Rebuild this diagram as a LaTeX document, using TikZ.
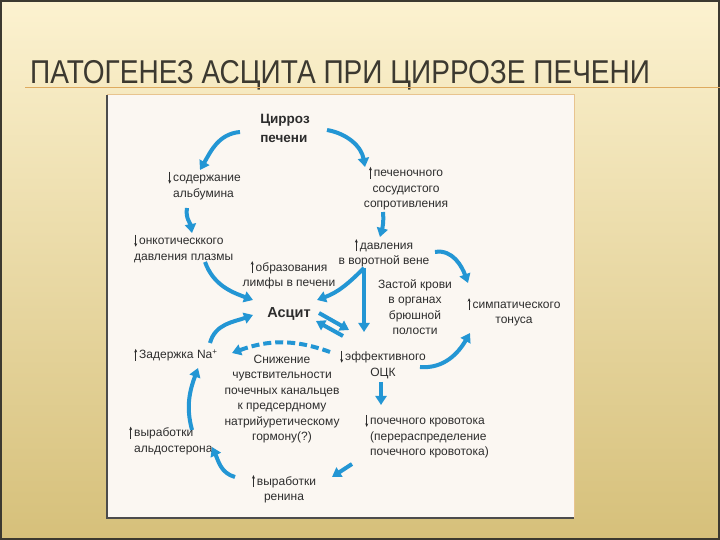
\documentclass[tikz,border=0pt]{standalone}
\usepackage{fontspec}
\setmainfont{Liberation Sans}
\usetikzlibrary{arrows.meta}

\definecolor{flowblue}{RGB}{35,150,212}
\definecolor{inktext}{RGB}{45,45,45}
\definecolor{titleink}{RGB}{60,57,48}
\definecolor{slidetop}{RGB}{252,242,208}
\definecolor{slidebot}{RGB}{214,192,122}
\definecolor{panelfill}{RGB}{251,247,242}
\definecolor{rulecol}{RGB}{222,170,95}

% small black up/down marks in front of the labels
\newcommand{\upa}{\tikz[baseline=0pt]\draw[line width=0.6pt,-{Stealth[length=3.5pt,width=3pt]}] (0pt,-2pt) -- (0pt,10pt);\hspace{2pt}}
\newcommand{\dna}{\tikz[baseline=0pt]\draw[line width=0.6pt,-{Stealth[length=3.5pt,width=3pt]}] (0pt,10pt) -- (0pt,-2pt);\hspace{2pt}}

\tikzset{
  flow/.style={draw=flowblue, line width=4pt, -{Triangle[length=9pt,width=11pt]}},
  flowdash/.style={flow, dash pattern=on 8pt off 4pt},
  lbl/.style={inner sep=0pt, text=inktext, font=\fontsize{12}{15.5}\selectfont},
  lbll/.style={lbl, align=left, anchor=west},
  lblc/.style={lbl, align=center},
  head/.style={inner sep=0pt, text=inktext, font=\fontsize{13.5}{19}\selectfont\bfseries, align=left},
}

\begin{document}
\begin{tikzpicture}[x=1pt,y=1pt]
  \useasboundingbox (0,0) rectangle (720,540);

  %draw slide background
  \shade[top color=slidetop, bottom color=slidebot] (0,0) rectangle (720,540);
  \draw[line width=2pt, draw=titleink] (1,1) rectangle (719,539);

  %draw title
  \node[anchor=base west, inner sep=0pt, text=titleink, font=\fontsize{33}{36}\selectfont] (title) at (30,456)
    {\scalebox{0.85}[1]{ПАТОГЕНЕЗ АСЦИТА ПРИ ЦИРРОЗЕ ПЕЧЕНИ}};
  \draw[rulecol, line width=1pt] (25,452) -- (720,452);

  %draw panel
  \fill[panelfill] (107,22) rectangle (574,445);
  \draw[rulecol!70, line width=1pt] (107,445) -- (574,445) -- (574,22);
  \draw[black!70, line width=1.2pt] (107,445) -- (107,22) -- (574,22);

  %draw nodes
  \node[head] (cirr) at (285,412) {Цирроз\\печени};
  \node[lbll] (alb) at (168,354.5) {\dna содержание\\\hphantom{\dna}альбумина};
  \node[lbll] (onk) at (134,291.5) {\dna онкотическкого\\давления плазмы};
  \node[lblc] (lymph) at (289,265) {\upa образования\\лимфы в печени};
  \node[lblc] (sopr) at (406,351.5) {\upa печеночного\\сосудистого\\сопротивления};
  \node[lblc] (portal) at (384,287) {\upa давления\\в воротной вене};
  \node[lblc] (zastoy) at (415,233) {Застой крови\\в органах\\брюшной\\полости};
  \node[lblc] (symp) at (514,228) {\upa симпатического\\тонуса};
  \node[head, font=\fontsize{14.5}{19}\selectfont\bfseries] (ascit) at (289,226) {Асцит};
  \node[lbll] (na) at (134,185) {\upa Задержка Na\textsuperscript{+}};
  \node[lblc] (atrial) at (282,141) {Снижение\\чувствительности\\почечных канальцев\\к предсердному\\натрийуретическому\\гормону(?)};
  \node[lblc] (occ) at (383,175.5) {\dna эффективного\\ОЦК};
  \node[lbll] (ald) at (129,99.5) {\upa выработки\\\hphantom{\upa}альдостерона};
  \node[lblc] (renin) at (284,51) {\upa выработки\\ренина};
  \node[lbll] (kidney) at (365,103.5) {\dna почечного кровотока\\\hphantom{\dna}(перераспределение\\\hphantom{\dna}почечного кровотока)};

  %draw arrows, outer ring
  \draw[flow] ([shift={(-45,-4)}]cirr.center) to[out=185,in=60] ([shift={(32,15.5)}]alb.west);
  \draw[flow] ([shift={(42,-2)}]cirr.center) to[out=-10,in=100] ([shift={(-41,21.5)}]sopr.center);
  \draw[flow] ([shift={(19,-22.5)}]alb.west) to[out=260,in=100] ([shift={(58,15.5)}]onk.west);
  \draw[flow] ([shift={(-23,-23.5)}]sopr.center) to[out=-85,in=75] ([shift={(-4,16)}]portal.center);
  \draw[flow] ([shift={(51,1)}]portal.center) to[out=10,in=110] ([shift={(-46,29)}]symp.center);
  \draw[flow] ([shift={(37,-2.5)}]occ.center) to[out=-5,in=240] ([shift={(-44,-21)}]symp.center);

  %draw arrows into ascites
  \draw[flow] ([shift={(71,-13.5)}]onk.west) to[out=-70,in=160] ([shift={(-36,14)}]ascit.center);
  \draw[flow] ([shift={(-20,-15)}]portal.center) to[out=225,in=20] ([shift={(28,14)}]ascit.center);
  \draw[flow] ([shift={(-20,-15)}]portal.center) -- ([shift={(-19,32.5)}]occ.center);
  \draw[flow] ([shift={(30,1)}]ascit.center) -- ([shift={(-34,34.5)}]occ.center);
  \draw[flow] ([shift={(-40,28.5)}]occ.center) -- ([shift={(27,-7)}]ascit.center);
  \draw[flow] ([shift={(76,12)}]na.west) to[out=75,in=200] ([shift={(-36,-1)}]ascit.center);

  %draw arrows, lower ring
  \draw[flowdash] ([shift={(-53,12.5)}]occ.center) to[out=160,in=20] ([shift={(98,2)}]na.west);
  \draw[flow] ([shift={(-2,-17.5)}]occ.center) -- ([shift={(16,31.5)}]kidney.west);
  \draw[flow] ([shift={(-13,-27.5)}]kidney.west) -- ([shift={(48,12)}]renin.center);
  \draw[flow] ([shift={(-49,12)}]renin.center) to[out=165,in=-65] ([shift={(83,-6.5)}]ald.west);
  \draw[flow] ([shift={(63,10.5)}]ald.west) to[out=105,in=250] ([shift={(64,-13)}]na.west);
\end{tikzpicture}
\end{document}
